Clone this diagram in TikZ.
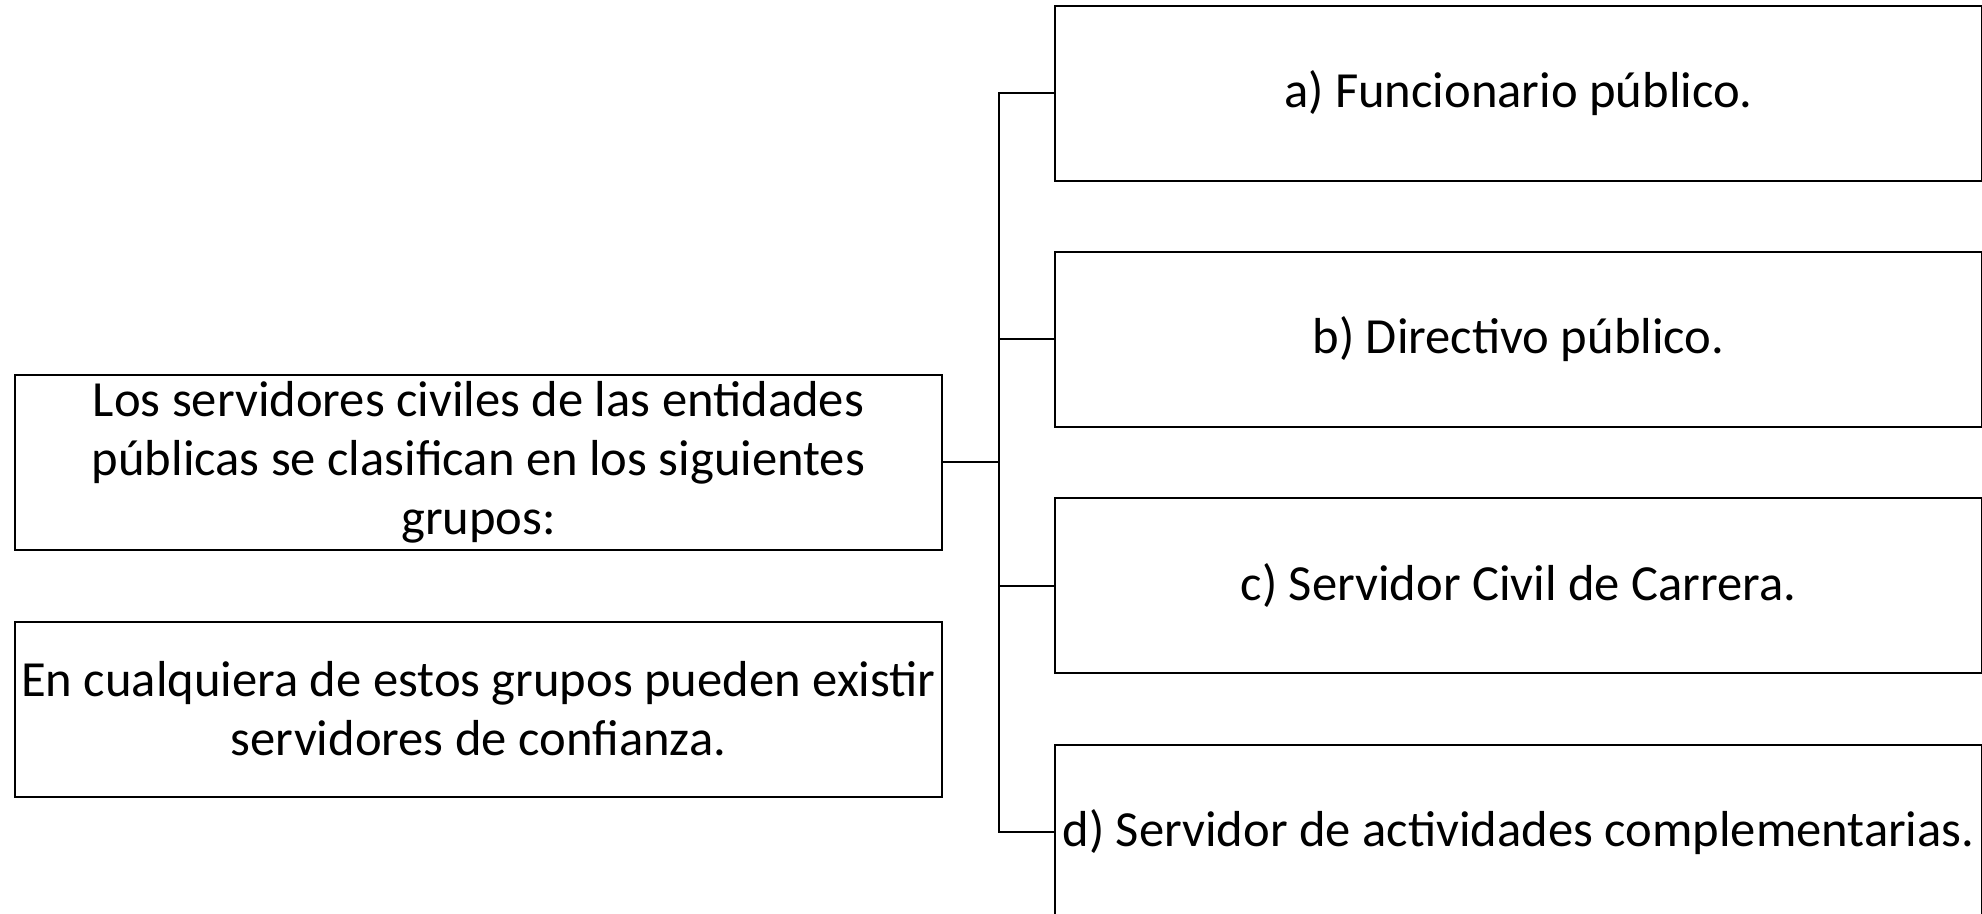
\documentclass[tikz,border=0pt]{standalone}
\usepackage{fontspec}
\setmainfont{Carlito}
\begin{document}
\begin{tikzpicture}[x=0.5pt,y=-0.5pt,
  line width=1pt,main node/.style={rectangle,draw,align=center,inner sep=1pt,
    minimum width=463.5pt,minimum height=87.5pt,font=\fontsize{25.3}{29.5}\selectfont}]
  \useasboundingbox (0,0) rectangle (1982,914);

  \node[main node] (1) at (478.5,462.5) {Los servidores civiles de las entidades\\públicas se clasifican en los siguientes\\grupos:};
  \node[main node] (2) at (478.5,709) {En cualquiera de estos grupos pueden existir\\servidores de confianza.};
  \node[main node] (3) at (1518.5,93.5) {a) Funcionario público.};
  \node[main node] (4) at (1518.5,339.5) {b) Directivo público.};
  \node[main node] (5) at (1518.5,585.5) {c) Servidor Civil de Carrera.};
  \node[main node] (6) at (1518.5,832) {d) Servidor de actividades complementarias.};

  \coordinate (j) at (999,462.5);

  \draw (1) -- (j);
  \draw (3.west) -| (j);
  \draw (4.west) -| (j);
  \draw (5.west) -| (j);
  \draw (6.west) -| (j);
\end{tikzpicture}
\end{document}
